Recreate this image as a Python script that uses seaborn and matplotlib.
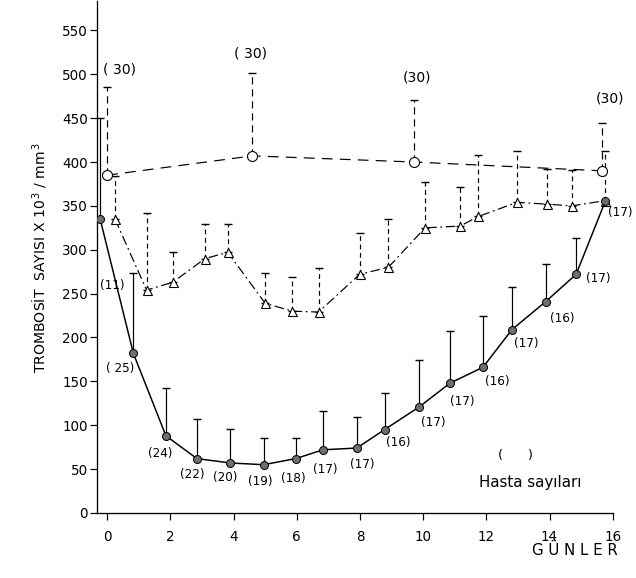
import numpy as np
import pandas as pd
import matplotlib
matplotlib.use("Agg")
import matplotlib.pyplot as plt
import seaborn as sns

# values (x drawn slightly offset per series)
solid_day = [-0.22, 0.83, 1.86, 2.84, 3.89, 4.95, 5.97, 6.83, 7.90, 8.78, 9.88, 10.85, 11.89, 12.81, 13.88, 14.84, 15.76]
solid_mean = [335, 182, 88, 62, 57, 55, 62, 72, 74, 95, 121, 148, 166, 209, 241, 272, 355]
solid_top = [450, 273, 143, 107, 96, 86, 86, 116, 109, 137, 174, 207, 224, 258, 284, 313, 395]
solid_err_day = [-0.22, 0.83, 1.86, 2.84, 3.89, 4.95, 5.97, 6.83, 7.90, 8.78, 9.88, 10.85, 11.89, 12.81, 13.88, 14.84, 16.3]
solid_n = ["(11)", "( 25)", "(24)", "(22)", "(20)", "(19)", "(18)", "(17)", "(17)", "(16)",
           "(17)", "(17)", "(16)", "(17)", "(16)", "(17)", "(17)"]

tri_day = [0.25, 1.25, 2.08, 3.10, 3.82, 5.00, 5.86, 6.69, 7.99, 8.90, 10.06, 11.17, 11.75, 12.97, 13.91, 14.70, 15.76]
tri_mean = [335, 254, 263, 290, 297, 239, 230, 229, 272, 280, 325, 327, 338, 354, 352, 350, 356]
tri_top = [384, 342, 298, 329, 329, 273, 269, 279, 319, 335, 377, 372, 408, 412, 392, 391, 412]

circ_day = [0.0, 4.6, 9.7, 15.65]
circ_mean = [385, 407, 400, 390]
circ_top = [486, 502, 471, 444]
circ_n = ["( 30)", "( 30)", "(30)", "(30)"]

# label offsets in points (dpi 72 -> 1pt = 1px)
solid_offsets = [(12, -66), (-13, -15), (-6, -18), (-5, -16), (-5, -15), (-3, -17), (-2, -20), (2, -20),
                 (5, -16), (14, -13), (14, -16), (12, -18), (14, -14), (14, -14), (16, -17), (22, -4), (15, -11)]
circ_offsets = [(12, 17), (-2, 19), (3, 22), (8, 25)]

sns.set_style("ticks")
plt.rcParams["font.family"] = ["DejaVu Sans"]
plt.rcParams["text.color"] = "black"
plt.rcParams["axes.labelcolor"] = "black"
plt.rcParams["xtick.color"] = "black"
plt.rcParams["ytick.color"] = "black"

fig = plt.figure(figsize=(636 / 72, 578 / 72), dpi=72)
ax = fig.add_axes([0.1525, 0.1125, 0.811, 0.885])

solid_df = pd.DataFrame({"gun": solid_day, "trombosit": solid_mean})
tri_df = pd.DataFrame({"gun": tri_day, "trombosit": tri_mean})
circ_df = pd.DataFrame({"gun": circ_day, "trombosit": circ_mean})


def up_bars(xs, mean, top, ls):
    mean = np.array(mean)
    err = np.array(top) - mean
    eb = ax.errorbar(xs, mean, yerr=[np.zeros_like(err), err], fmt="none",
                     ecolor="black", elinewidth=1.2, capsize=4, capthick=1.4, zorder=2)
    eb[2][0].set_linestyle(ls)


up_bars(circ_day, circ_mean, circ_top, (0, (6, 4)))
up_bars(tri_day, tri_mean, tri_top, (0, (4, 3)))
up_bars(solid_err_day, solid_mean, solid_top, "-")

sns.lineplot(data=circ_df, x="gun", y="trombosit", sort=False, ax=ax, color="black",
             linewidth=1.2, linestyle=(0, (9, 6)), marker="o", markersize=10,
             markerfacecolor="white", markeredgecolor="black", markeredgewidth=1.1, zorder=4)
sns.lineplot(data=tri_df, x="gun", y="trombosit", sort=False, ax=ax, color="black",
             linewidth=1.2, linestyle=(0, (8, 3, 1.5, 3)), marker="^", markersize=9,
             markerfacecolor="white", markeredgecolor="black", markeredgewidth=1.1, zorder=4)
sns.lineplot(data=solid_df, x="gun", y="trombosit", sort=False, ax=ax, color="black",
             linewidth=1.5, linestyle="-", marker="o", markersize=8,
             markerfacecolor="#6e6e6e", markeredgecolor="black", markeredgewidth=1.0, zorder=5)

for x, y, t, off in zip(solid_day, solid_mean, solid_n, solid_offsets):
    ax.annotate(t, (x, y), xytext=off, textcoords="offset points", ha="center", va="center",
                fontsize=12, annotation_clip=False)
for x, y, t, off in zip(circ_day, circ_top, circ_n, circ_offsets):
    ax.annotate(t, (x, y), xytext=off, textcoords="offset points", ha="center", va="center",
                fontsize=14)

ax.set_xlim(-0.32, 16)
ax.set_ylim(0, 583)
ax.set_xticks(range(0, 17, 2))
ax.set_yticks(range(0, 551, 50))
ax.tick_params(axis="both", direction="out", length=7, width=1.2, labelsize=13.5)
ax.tick_params(axis="x", pad=10)
ax.tick_params(axis="y", pad=2)
sns.despine(ax=ax)
for s in ["left", "bottom"]:
    ax.spines[s].set_linewidth(1.3)
    ax.spines[s].set_color("black")

ax.set_xlabel("")
ax.set_ylabel("TROMBOSİT  SAYISI X 10$^{\\,3}$ / mm$^{\\,3}$", fontsize=14, labelpad=12)

fig.text(575 / 636, 1 - 550 / 578, "G Ü N L E R", fontsize=15, ha="center", va="center")
fig.text(516 / 636, 1 - 455 / 578, "(      )", fontsize=13, ha="center", va="center")
fig.text(530 / 636, 1 - 483 / 578, "Hasta sayıları", fontsize=15, ha="center", va="center")

fig.savefig("out.png", dpi=72)
